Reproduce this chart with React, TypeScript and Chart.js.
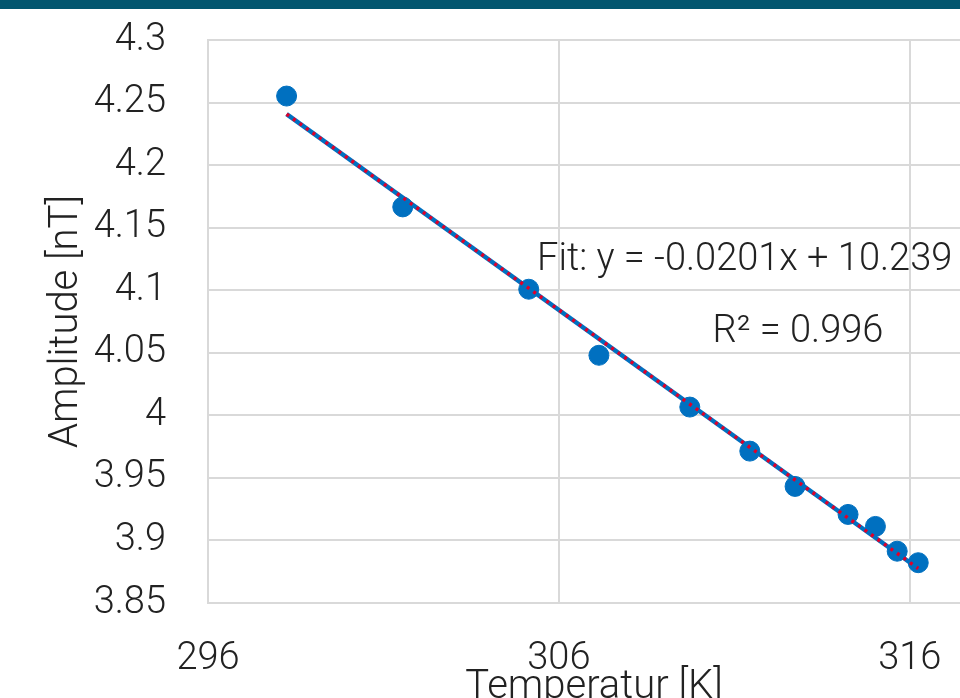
import React, { useEffect, useRef } from "react";
import { Chart, registerables } from "chart.js";

Chart.register(...registerables);

// ---- data ----
const temperatures = [298.24, 301.55, 305.14, 307.14, 309.73, 311.44, 312.73, 314.24, 315.02, 315.64, 316.24];
const amplitudes = [4.2552, 4.1666, 4.1008, 4.048, 4.0066, 3.9714, 3.9432, 3.9208, 3.9112, 3.8914, 3.8822];
const fitTemperatures = [298.24, 316.24];
const fitAmplitudes = [4.2408, 3.8776];
const xTickValues = [296, 306, 316];
const yTickValues = [3.85, 3.9, 3.95, 4, 4.05, 4.1, 4.15, 4.2, 4.25, 4.3];
const xRange = [296, 318];
const fitLabel = "Fit: y = -0.0201x + 10.239";
const r2Label = "R\u00B2 = 0.996";
const xTitle = "Temperatur [K]";
const yTitle = "Amplitude [nT]";

const FONT = "Roboto";
const TEXT = "#222222";
const GRID = "#d9d9d9";
const BLUE = "#0070C0";
const RED = "#E0002A";

const CANVAS_W = 1000;
const CANVAS_H = 740;

const annotationPlugin = {
  id: "fitText",
  afterDatasetsDraw(chart: any) {
    const ctx = chart.ctx as CanvasRenderingContext2D;
    ctx.save();
    ctx.font = `300 38px ${FONT}`;
    ctx.fillStyle = TEXT;
    ctx.textBaseline = "alphabetic";
    ctx.textAlign = "left";
    ctx.fillText(fitLabel, 537, 270);
    ctx.textAlign = "center";
    ctx.fillText(r2Label, 798, 342);
    ctx.restore();
  },
};

export default function App() {
  const canvasRef = useRef<HTMLCanvasElement | null>(null);

  useEffect(() => {
    if (!canvasRef.current) return;
    const points = temperatures.map((t, i) => ({ x: t, y: amplitudes[i] }));
    const fit = fitTemperatures.map((t, i) => ({ x: t, y: fitAmplitudes[i] }));

    const chart = new Chart(canvasRef.current, {
      type: "scatter",
      data: {
        datasets: [
          {
            type: "line",
            label: "fit dots",
            data: fit,
            borderColor: RED,
            borderWidth: 3.5,
            borderDash: [3, 5],
            pointRadius: 0,
            fill: false,
            order: 0,
          } as any,
          {
            type: "line",
            label: "fit",
            data: fit,
            borderColor: BLUE,
            borderWidth: 4.5,
            pointRadius: 0,
            fill: false,
            order: 1,
          } as any,
          {
            type: "scatter",
            label: "Amplitude",
            data: points,
            backgroundColor: BLUE,
            borderColor: BLUE,
            pointRadius: 10,
            pointHoverRadius: 10,
            order: 2,
          },
        ],
      },
      options: {
        responsive: false,
        animation: false,
        devicePixelRatio: 1,
        layout: { padding: { top: 40, right: 20, bottom: 0, left: 0 } },
        plugins: {
          legend: { display: false },
          tooltip: { enabled: false },
        },
        scales: {
          x: {
            type: "linear",
            min: xRange[0],
            max: xRange[1],
            afterBuildTicks: (scale: any) => {
              scale.ticks = xTickValues.map((v) => ({ value: v }));
            },
            afterFit: (scale: any) => {
              scale.height = CANVAS_H - 603;
              scale.paddingLeft = 0;
              scale.paddingRight = 0;
            },
            grid: { color: GRID, lineWidth: 2, drawTicks: false },
            border: { color: GRID, width: 2 },
            ticks: {
              padding: 34,
              color: TEXT,
              font: { family: FONT, size: 38, weight: "300" as any },
              callback: (v: any) => String(v),
            },
            title: {
              display: true,
              text: xTitle,
              color: TEXT,
              font: { family: FONT, size: 40, weight: "300" as any },
              padding: { top: 0, bottom: 28 },
            },
          },
          y: {
            type: "linear",
            min: yTickValues[0],
            max: yTickValues[yTickValues.length - 1],
            afterBuildTicks: (scale: any) => {
              scale.ticks = yTickValues.map((v) => ({ value: v }));
            },
            afterFit: (scale: any) => {
              scale.width = 208;
              scale.paddingTop = 0;
              scale.paddingBottom = 0;
            },
            grid: { color: GRID, lineWidth: 2, drawTicks: false },
            border: { color: GRID, width: 2 },
            ticks: {
              padding: 42,
              color: TEXT,
              font: { family: FONT, size: 38, weight: "300" as any },
              callback: (v: any) => String(Number(Number(v).toFixed(2))),
            },
            title: {
              display: true,
              text: yTitle,
              color: TEXT,
              font: { family: FONT, size: 40, weight: "300" as any },
              padding: { top: 43, bottom: 0 },
            },
          },
        },
      },
      plugins: [annotationPlugin],
    });

    return () => chart.destroy();
  }, []);

  return (
    <div
      style={{
        position: "fixed",
        left: 0,
        top: 0,
        width: 960,
        height: 698,
        overflow: "hidden",
        background: "#ffffff",
      }}
    >
      <canvas
        ref={canvasRef}
        width={CANVAS_W}
        height={CANVAS_H}
        style={{ position: "absolute", left: 0, top: 0, width: CANVAS_W, height: CANVAS_H }}
      />
      <div
        style={{
          position: "absolute",
          left: 0,
          top: 0,
          width: "100%",
          height: 9,
          background: "#02566f",
        }}
      />
    </div>
  );
}
